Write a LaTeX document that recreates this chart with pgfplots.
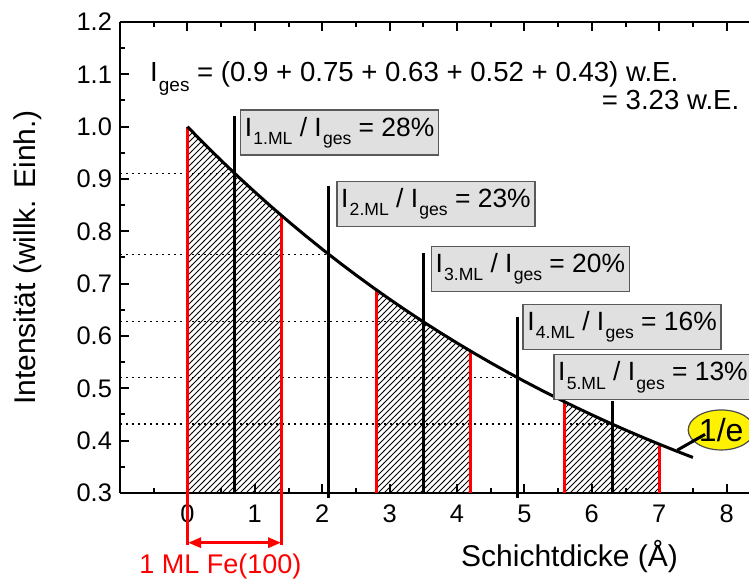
\documentclass[border=0pt]{standalone}
\usepackage{fontspec}
\setmainfont{Liberation Sans}
\usepackage{pgfplots}
\pgfplotsset{compat=1.18}
\usetikzlibrary{patterns,arrows.meta,shapes.geometric,calc}
\newcommand{\sub}[1]{\hspace{0.6pt}\raisebox{-4.2pt}{\fontsize{8.8}{10}\selectfont #1}}
\newcommand{\subb}[1]{\hspace{0.6pt}\raisebox{-4.8pt}{\fontsize{9.5}{10}\selectfont #1}}
\tikzset{lbl/.style={anchor=north west, draw=black!65, fill=black!12, line width=0.6pt,
  minimum width=99pt, minimum height=22.5pt, inner xsep=1.5pt, inner ysep=0pt,
  font=\fontsize{13.2}{15}\selectfont}}
\begin{document}
\begin{tikzpicture}
\begin{axis}[name=ax, scale only axis, width=314.5pt, height=235.5pt,
  xmin=-1, xmax=8.3323, ymin=0.3, ymax=1.2, clip=false,
  axis y line*=left, axis x line*=box,
  axis line style={line width=1pt},
  xtick={0,1,2,3,4,5,6,7,8},
  minor xtick={-0.5,0.5,1.5,2.5,3.5,4.5,5.5,6.5,7.5},
  ytick={0.3,0.4,0.5,0.6,0.7,0.8,0.9,1.0,1.1,1.2},
  minor ytick={0.35,0.45,0.55,0.65,0.75,0.85,0.95,1.05,1.15},
  tick align=inside, major tick length=4.5pt, minor tick length=2.5pt,
  tick style={line width=1pt, black},
  /pgf/number format/assume math mode=true,
  tick label style={font=\fontsize{12.7}{14}\selectfont},
  xticklabel style={yshift=-2.5pt},
  yticklabel style={xshift=-0.5pt, /pgf/number format/.cd, fixed, fixed zerofill, precision=1},
  xlabel={Schichtdicke (Å)},
  ylabel={Intensität (willk. Einh.)},
  label style={font=\fontsize{15}{17}\selectfont},
  xlabel style={at={(axis description cs:0.7147,-0.1352)}, anchor=center},
  ylabel style={at={(axis description cs:-0.1463,0.5)}, anchor=center},
]
% hatched areas (layers 1, 3, 5)
\addplot[draw=none, pattern=north east lines, pattern color=black] coordinates {
 (0,1) (0.25,0.967216) (0.5,0.935507) (0.75,0.904837) (1.0,0.875173) (1.25,0.846482) (1.4,0.829721)
 (1.4,0.3) (0,0.3)} -- cycle;
\addplot[draw=none, pattern=north east lines, pattern color=black] coordinates {
 (2.8,0.688437) (3.0,0.670320) (3.25,0.648344) (3.5,0.627089) (3.75,0.606531) (4.0,0.586646) (4.2,0.571209)
 (4.2,0.3) (2.8,0.3)} -- cycle;
\addplot[draw=none, pattern=north east lines, pattern color=black] coordinates {
 (5.6,0.473946) (5.75,0.464559) (6.0,0.449329) (6.25,0.434598) (6.5,0.420350) (6.75,0.406570) (7.0,0.393241)
 (7.0,0.3) (5.6,0.3)} -- cycle;
% dotted level lines
\addplot[black, line width=0.6pt, dash pattern=on 1pt off 2pt] coordinates {(-1,0.910890) (0.7,0.910890)};
\addplot[black, line width=0.6pt, dash pattern=on 1pt off 2pt] coordinates {(-1,0.755784) (2.1,0.755784)};
\addplot[black, line width=0.6pt, dash pattern=on 1pt off 2pt] coordinates {(-1,0.627089) (3.5,0.627089)};
\addplot[black, line width=0.6pt, dash pattern=on 1pt off 2pt] coordinates {(-1,0.520308) (4.9,0.520308)};
\addplot[black, line width=0.6pt, dash pattern=on 1pt off 2pt] coordinates {(-1,0.431711) (6.3,0.431711)};
% red layer boundaries
\addplot[red, line width=1.5pt] coordinates {(0,0.2006) (0,1)};
\addplot[red, line width=1.5pt] coordinates {(1.4,0.2006) (1.4,0.829721)};
\addplot[red, line width=1.5pt] coordinates {(2.8,0.3) (2.8,0.688437)};
\addplot[red, line width=1.5pt] coordinates {(4.2,0.3) (4.2,0.571209)};
\addplot[red, line width=1.5pt] coordinates {(5.6,0.3) (5.6,0.473946)};
\addplot[red, line width=1.5pt] coordinates {(7.0,0.3) (7.0,0.393241)};
% black layer centres
\addplot[black, line width=1.5pt] coordinates {(0.7,0.3) (0.7,1.02)};
\addplot[black, line width=1.5pt] coordinates {(2.1,0.29) (2.1,0.886)};
\addplot[black, line width=1.5pt] coordinates {(3.5,0.3) (3.5,0.758)};
\addplot[black, line width=1.5pt] coordinates {(4.9,0.29) (4.9,0.637)};
\addplot[black, line width=1.5pt] coordinates {(6.3,0.3) (6.3,0.475)};
% exponential decay curve
\addplot[black, line width=1.5pt] coordinates {
 (0,1) (0.25,0.967216) (0.5,0.935507) (0.75,0.904837) (1.0,0.875173) (1.25,0.846482)
 (1.5,0.818731) (1.75,0.791889) (2.0,0.765928) (2.25,0.740818) (2.5,0.716531) (2.75,0.693041)
 (3.0,0.670320) (3.25,0.648344) (3.5,0.627089) (3.75,0.606531) (4.0,0.586646) (4.25,0.567414)
 (4.5,0.548812) (4.75,0.530819) (5.0,0.513417) (5.25,0.496585) (5.5,0.480305) (5.75,0.464559)
 (6.0,0.449329) (6.25,0.434598) (6.5,0.420350) (6.75,0.406570) (7.0,0.393241) (7.25,0.380349)
 (7.5,0.367879)};
% 1 ML arrow
\addplot[red, line width=1.5pt, {Triangle[length=6.5pt,width=5pt]}-{Triangle[length=6.5pt,width=5pt]}]
  coordinates {(0.01,0.205) (1.39,0.205)};
\node[text=red, font=\fontsize{13.5}{15}\selectfont] at (axis cs:0.49,0.1592) {1 ML Fe(100)};
% label boxes
\node[lbl] at (axis cs:0.780,1.033) {I\sub{1.ML} / I\sub{ges} = 28\%};
\node[lbl] at (axis cs:2.21,0.8968) {I\sub{2.ML} / I\sub{ges} = 23\%};
\node[lbl] at (axis cs:3.61,0.7726) {I\sub{3.ML} / I\sub{ges} = 20\%};
\node[lbl] at (axis cs:4.971,0.6612) {I\sub{4.ML} / I\sub{ges} = 16\%};
\node[lbl] at (axis cs:5.430,0.5656) {I\sub{5.ML} / I\sub{ges} = 13\%};
% total intensity text
\node[anchor=base west, inner sep=0pt, font=\fontsize{13.8}{15}\selectfont] at (axis cs:-0.56,1.086)
  {I\subb{ges} = (0.9 + 0.75 + 0.63 + 0.52 + 0.43) w.E.};
\node[anchor=base east, inner sep=0pt, font=\fontsize{13.8}{15}\selectfont] at (axis cs:8.194,1.033)
  {= 3.23 w.E.};
% 1/e marker
\node[ellipse, fill=yellow, draw=black!70, line width=0.6pt, minimum width=33pt, minimum height=20pt,
  inner sep=0pt, font=\fontsize{16}{16}\selectfont] at (axis cs:7.92,0.4204) {1/e};
\addplot[black, line width=1.5pt] coordinates {(7.27,0.382) (7.68,0.412)};
\end{axis}
\pgfresetboundingbox
\path[use as bounding box] ($(ax.south west)+(-60pt,-45pt)$) rectangle ($(ax.north east)+(0pt,11pt)$);
\end{tikzpicture}
\end{document}
